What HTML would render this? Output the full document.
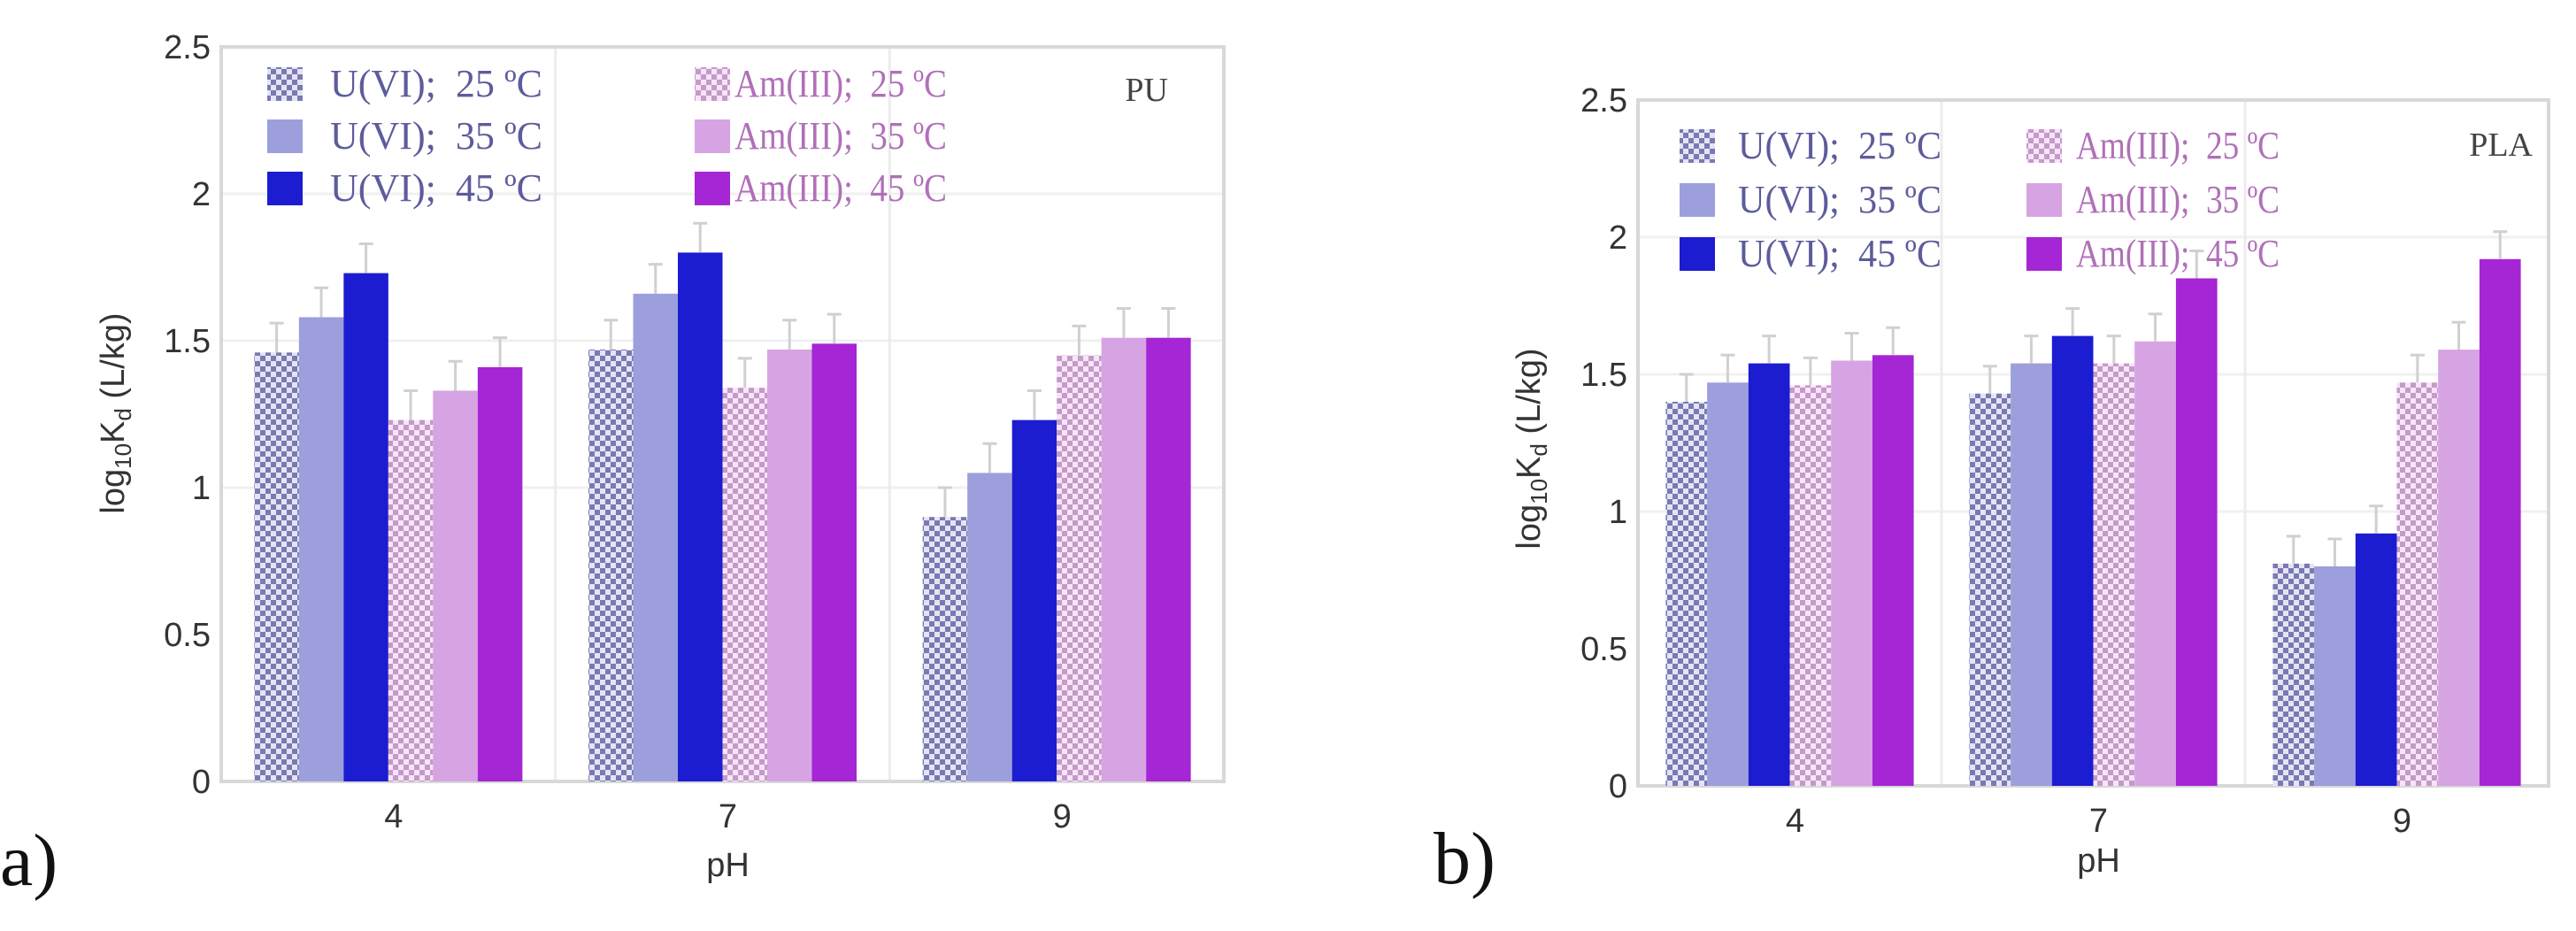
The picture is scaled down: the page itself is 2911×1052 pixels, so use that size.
<!DOCTYPE html>
<html><head><meta charset="utf-8"><style>
html,body{margin:0;padding:0;background:#fff;}
svg{display:block;}
text{font-family:"Liberation Sans",sans-serif;}
.ser{font-family:"Liberation Serif",serif;}
</style></head><body>
<svg id="fig" width="2911" height="1052" viewBox="0 0 2911 1052" xmlns="http://www.w3.org/2000/svg">
<defs>
<pattern id="pU" width="12" height="12" patternUnits="userSpaceOnUse">
<rect width="12" height="12" fill="#e4e4f6"/><rect width="6" height="6" fill="#7a7ab0"/><rect x="6" y="6" width="6" height="6" fill="#7a7ab0"/>
</pattern>
<pattern id="pA" width="12" height="12" patternUnits="userSpaceOnUse">
<rect width="12" height="12" fill="#f8e4f8"/><rect width="6" height="6" fill="#c49ac8"/><rect x="6" y="6" width="6" height="6" fill="#c49ac8"/>
</pattern>
</defs>
<g id="panelA"></g>
<g id="panelB"></g>
</svg>
<script>
const categories = ["4","7","9"];
const seriesNames = ["U(VI);\u00a0\u00a025 \u00baC","U(VI);\u00a0\u00a035 \u00baC","U(VI);\u00a0\u00a045 \u00baC","Am(III);\u00a0\u00a025 \u00baC","Am(III);\u00a0\u00a035 \u00baC","Am(III);\u00a0\u00a045 \u00baC"];
const yTicks = [0,0.5,1,1.5,2,2.5];
const yTickLabels = ["0","0.5","1","1.5","2","2.5"];
const errA = [0.1,0.1,0.1,0.1,0.1,0.1];
const puU25 = [1.46,1.47,0.90];
const puU35 = [1.58,1.66,1.05];
const puU45 = [1.73,1.80,1.23];
const puAm25 = [1.23,1.34,1.45];
const puAm35 = [1.33,1.47,1.51];
const puAm45 = [1.41,1.49,1.51];
const plaU25 = [1.40,1.43,0.81];
const plaU35 = [1.47,1.54,0.80];
const plaU45 = [1.54,1.64,0.92];
const plaAm25 = [1.46,1.54,1.47];
const plaAm35 = [1.55,1.62,1.59];
const plaAm45 = [1.57,1.85,1.92];

const fills = ["url(#pU)","#9c9fdc","#1c1cd0","url(#pA)","#d6a4e2","#a426d4"];
const textCols = ["#5c5c9c","#5c5c9c","#5c5c9c","#b070b8","#b070b8","#b070b8"];
const NS="http://www.w3.org/2000/svg";
function mk(parent,tag,attrs,txt){const e=document.createElementNS(NS,tag);for(const k in attrs)e.setAttribute(k,attrs[k]);if(txt!==undefined)e.textContent=txt;parent.appendChild(e);return e;}

function drawPanel(g,cfg,series){
  const {x0,x1,y0,y1,ymax}=cfg;
  const ys=v=>y0-(v/ymax)*(y0-y1);
  const gw=(x1-x0)/categories.length;
  const bw=cfg.bw, off=(gw-bw*6)/2;
  [1,1.5,2].forEach(v=>{const l=mk(g,'line',{x1:x0,x2:x1,y1:ys(v),y2:ys(v),stroke:'#f0f0f0','stroke-width':3});
    
    });
  for(let i=1;i<categories.length;i++){const l=mk(g,'line',{x1:x0+gw*i,x2:x0+gw*i,y1:y1,y2:y0,stroke:'#ececec','stroke-width':3});
    
    }
  const fr=mk(g,'rect',{x:x0,y:y1,width:x1-x0,height:y0-y1,fill:'none',stroke:'#d8d8d8','stroke-width':4});
  
  
  series.forEach((arr,s)=>{
    arr.forEach((v,c)=>{
      const bx=x0+gw*c+off+bw*s;
      const r=mk(g,'rect',{x:bx,y:ys(v),width:bw,height:y0-ys(v),fill:fills[s]});
      
      
      const ev=v+errA[s];
      const e=mk(g,'path',{d:`M${bx+bw/2},${ys(v)} V${ys(ev)} M${bx+bw/2-8},${ys(ev)} H${bx+bw/2+8}`,stroke:'#d0d0d0','stroke-width':3,fill:'none'});
      
      
    });
  });
  yTicks.forEach((v,i)=>{const t=mk(g,'text',{x:x0-12,y:ys(v)+13,'text-anchor':'end','font-size':38,fill:'#333'},yTickLabels[i]);
    
    });
  categories.forEach((c,i)=>{const t=mk(g,'text',{x:x0+gw*(i+0.5)+6,y:y0+52,'text-anchor':'middle','font-size':38,fill:'#333'},c);
    
    });
  const xt=mk(g,'text',{x:x0+gw*1.5+6,y:cfg.xtY,'text-anchor':'middle','font-size':38,fill:'#333'},'pH');
  
  
  const yt=mk(g,'text',{x:0,y:0,'text-anchor':'middle','font-size':38,fill:'#333',transform:`translate(${cfg.ytX},${cfg.ytY}) rotate(-90)`});
  
  
  mk(yt,'tspan',{},'log');mk(yt,'tspan',{'font-size':26,dy:8},'10');mk(yt,'tspan',{dy:-8},'K');mk(yt,'tspan',{'font-size':26,dy:8},'d');mk(yt,'tspan',{dy:-8},' (L/kg)');
  for(let s=0;s<6;s++){
    const col=s<3?0:1,row=s%3;
    const lx=cfg.legX[col], ly=cfg.legY+row*cfg.legDy;
    const le=mk(g,'g',{});
    
    
    mk(le,'rect',{x:lx,y:ly-19,width:40,height:38,fill:fills[s]});
    mk(le,'text',{x:lx+cfg.legTx[col],y:ly+14,'font-size':44,fill:textCols[s],class:'ser',textLength:cfg.legW,lengthAdjust:'spacingAndGlyphs'},seriesNames[s]);
  }
  const tt=mk(g,'text',{x:cfg.titleX,y:cfg.titleY,'text-anchor':'end','font-size':38,fill:'#444',class:'ser'},cfg.title);
  
  
  const pl=mk(g,'text',{x:cfg.plX,y:cfg.plY,'font-size':84,fill:'#111',class:'ser'},cfg.pl);
  
  
}
drawPanel(document.getElementById('panelA'),{tag:'pu',x0:250,x1:1383,y0:883,y1:53,ymax:2.5,bw:50.5,xtY:990,ytX:140,ytY:467,
  legX:[302,785],legY:95,legDy:59,legTx:[71,45],legW:240,title:'PU',titleX:1320,titleY:114,pl:'a)',plX:0,plY:1000},
  [puU25,puU35,puU45,puAm25,puAm35,puAm45]);
drawPanel(document.getElementById('panelB'),{tag:'pla',x0:1851,x1:2880,y0:888,y1:113,ymax:2.5,bw:46.7,xtY:985,ytX:1740,ytY:507,
  legX:[1898,2290],legY:165,legDy:61,legTx:[66,56],legW:230,title:'PLA',titleX:2862,titleY:176,pl:'b)',plX:1620,plY:998},
  [plaU25,plaU35,plaU45,plaAm25,plaAm35,plaAm45]);
</script>
</body></html>
